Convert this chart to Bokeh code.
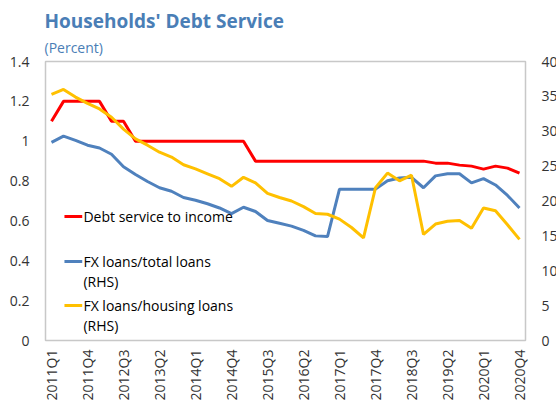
from bokeh.plotting import figure
from bokeh.models import Range1d, LinearAxis, FixedTicker, Label, Title, NumeralTickFormatter
from bokeh.embed import file_html
from bokeh.resources import INLINE
from math import pi

# ---------------- data ----------------
quarters = [f"{y}Q{q}" for y in range(2011, 2021) for q in range(1, 5)]

debt_service_to_income = [
    1.10, 1.20, 1.20, 1.20, 1.20, 1.10, 1.10, 1.00, 1.00, 1.00,
    1.00, 1.00, 1.00, 1.00, 1.00, 1.00, 1.00, 0.90, 0.90, 0.90,
    0.90, 0.90, 0.90, 0.90, 0.90, 0.90, 0.90, 0.90, 0.90, 0.90,
    0.90, 0.90, 0.89, 0.89, 0.88, 0.875, 0.86, 0.875, 0.865, 0.84,
]
fx_total_loans = [
    28.4, 29.3, 28.7, 28.0, 27.6, 26.7, 24.9, 23.8, 22.8, 21.9,
    21.4, 20.5, 20.1, 19.6, 19.0, 18.2, 19.1, 18.5, 17.2, 16.8,
    16.4, 15.8, 15.0, 14.9, 21.7, 21.7, 21.7, 21.7, 22.9, 23.3,
    23.4, 21.9, 23.6, 23.9, 23.9, 22.6, 23.2, 22.3, 20.8, 19.0,
]
fx_housing_loans = [
    35.3, 36.0, 34.9, 34.0, 33.2, 32.0, 30.3, 28.9, 28.0, 27.0,
    26.3, 25.2, 24.6, 23.9, 23.2, 22.1, 23.4, 22.6, 21.1, 20.5,
    20.0, 19.2, 18.2, 18.1, 17.4, 16.2, 14.7, 21.9, 24.0, 22.9,
    23.7, 15.2, 16.7, 17.1, 17.2, 16.1, 19.0, 18.6, 16.6, 14.5,
]

left_ticks = [0, 0.2, 0.4, 0.6, 0.8, 1.0, 1.2, 1.4]
right_ticks = [0, 5, 10, 15, 20, 25, 30, 35, 40]
x_label_step = 3

title_text = "Households' Debt Service"
subtitle_text = "(Percent)"
series_names = ["Debt service to income", "FX loans/total loans", "FX loans/housing loans"]
series_colors = ["#ff0000", "#4f81bd", "#ffc000"]

FONT = "Open Sans"
TICK_COLOR = "#333333"
TITLE_COLOR = "#4a7eb6"

x = list(range(len(quarters)))

p = figure(
    frame_width=480, frame_height=279,
    output_backend="svg", toolbar_location=None,
    x_range=Range1d(-0.5, len(quarters) - 0.5),
    y_range=Range1d(0, 1.4),
    min_border_left=45, min_border_right=31,
    min_border_top=61, min_border_bottom=61,
)
p.extra_y_ranges = {"rhs": Range1d(0, 40)}

p.background_fill_color = "white"
p.border_fill_color = "white"
p.outline_line_color = "#c8c8c8"
p.outline_line_width = 1.5
p.xgrid.visible = False
p.ygrid.visible = False


def style_axis(ax, size, standoff):
    ax.axis_line_color = None
    ax.major_tick_line_color = None
    ax.minor_tick_line_color = None
    ax.major_tick_out = 0
    ax.major_tick_in = 0
    ax.minor_tick_out = 0
    ax.minor_tick_in = 0
    ax.axis_label_standoff = 0
    ax.major_label_standoff = standoff
    ax.major_label_text_font = FONT
    ax.major_label_text_font_size = size
    ax.major_label_text_color = TICK_COLOR


# left axis
ya = p.yaxis[0]
ya.ticker = FixedTicker(ticks=left_ticks)
ya.formatter = NumeralTickFormatter(format="0.[0]")
style_axis(ya, "14px", 16)

# right axis
ra = LinearAxis(y_range_name="rhs", ticker=FixedTicker(ticks=right_ticks))
style_axis(ra, "14px", 16)
p.add_layout(ra, "right")

# x axis
xa = p.xaxis[0]
xt = x[::x_label_step]
xa.ticker = FixedTicker(ticks=xt)
xa.major_label_overrides = {i: quarters[i] for i in xt}
xa.major_label_orientation = pi / 2
style_axis(xa, "14px", 9)

# lines
p.line(x, debt_service_to_income, line_color=series_colors[0], line_width=3)
p.line(x, fx_total_loans, line_color=series_colors[1], line_width=3, y_range_name="rhs")
p.line(x, fx_housing_loans, line_color=series_colors[2], line_width=3, y_range_name="rhs")

# legend (manual, inside plot)
leg_y = [0.622, 0.396, 0.176]
leg_extra = [None, "(RHS)", "(RHS)"]
for name, col, yy, extra in zip(series_names, series_colors, leg_y, leg_extra):
    p.line([1.08, 2.56], [yy, yy], line_color=col, line_width=3)
    p.add_layout(Label(x=2.66, y=yy, text=name, text_font=FONT, text_font_size="14px",
                       text_color="#000000", text_baseline="middle"))
    if extra:
        p.add_layout(Label(x=2.66, y=yy - 0.1, text=extra, text_font=FONT, text_font_size="14px",
                           text_color="#000000", text_baseline="middle"))

# titles
p.add_layout(Title(text=subtitle_text, text_font=FONT, text_font_size="14px",
                   text_font_style="normal", text_color=TITLE_COLOR, align="left",
                   offset=-1, standoff=9), "above")
p.add_layout(Title(text=title_text, text_font=FONT, text_font_size="19px",
                   text_font_style="bold", text_color=TITLE_COLOR, align="left",
                   offset=-1, standoff=-4), "above")

open("out.html", "w").write(file_html(p, INLINE))
